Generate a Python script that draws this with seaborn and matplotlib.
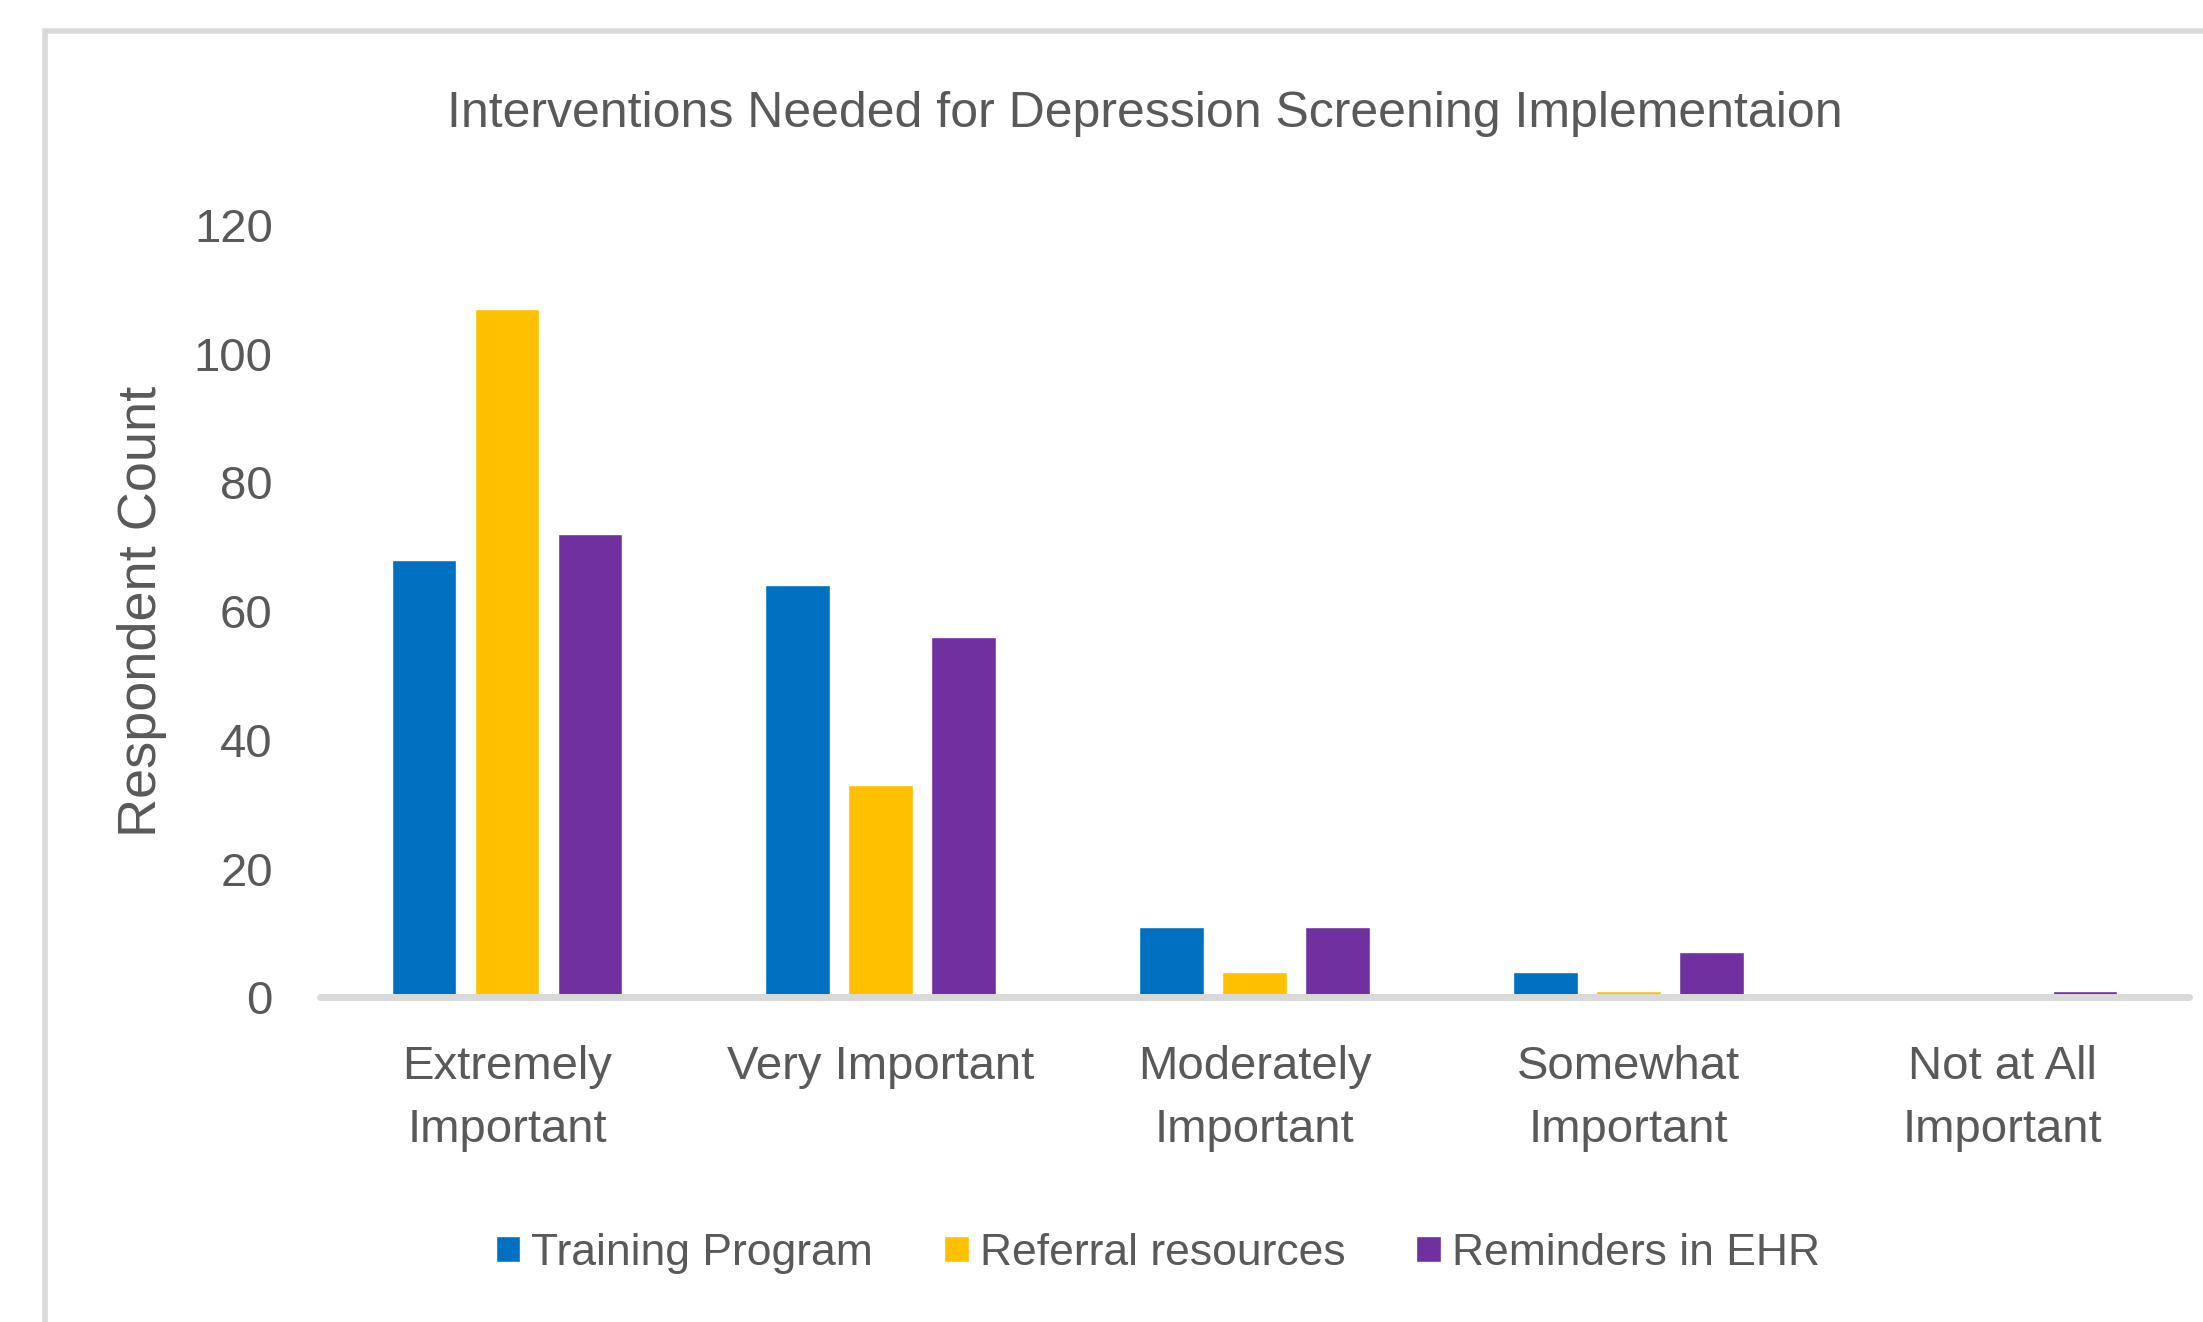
import pandas as pd
import seaborn as sns
import matplotlib.pyplot as plt
from matplotlib.patches import Rectangle

# values
categories = ["Extremely\nImportant", "Very Important", "Moderately\nImportant",
              "Somewhat\nImportant", "Not at All\nImportant"]
training_program = [68, 64, 11, 4, 0]
referral_resources = [107, 33, 4, 1, 0]
reminders_ehr = [72, 56, 11, 7, 1]
series_names = ["Training Program", "Referral resources", "Reminders in EHR"]
colors = ["#0070C0", "#FFC000", "#7030A0"]
yticks = [0, 20, 40, 60, 80, 100, 120]

df = pd.DataFrame({
    "category": categories * 3,
    "series": [s for s in series_names for _ in categories],
    "count": training_program + referral_resources + reminders_ehr,
})

sns.set_style("white")
plt.rcParams["font.family"] = ["Liberation Sans", "DejaVu Sans"]
text_color = "#595959"

fig = plt.figure(figsize=(22.03, 13.22), dpi=100)
ax = fig.add_axes([0.1453, 0.2455, 0.8483, 0.5843])

sns.barplot(data=df, x="category", y="count", hue="series", order=categories,
            hue_order=series_names, palette=colors, width=0.666, gap=0.22,
            saturation=1, ax=ax)

ax.axhline(0, color="#D9D9D9", lw=5, zorder=5, clip_on=False)
ax.set_xlim(-0.5, 4.5)
ax.set_ylim(0, 120)
ax.set_yticks(yticks)
sns.despine(ax=ax, left=True, bottom=True)
ax.tick_params(axis="both", length=0, colors=text_color, labelsize=34)
ax.tick_params(axis="x", pad=34)
ax.tick_params(axis="y", pad=34)
for lbl in ax.get_xticklabels():
    lbl.set_linespacing(1.58)
ax.set_xlabel("")
ax.set_ylabel("Respondent Count", fontsize=39, color=text_color)
ax.yaxis.set_label_coords(-0.082, 0.5)

# legend below the plot
handles, labels = ax.get_legend_handles_labels()
ax.get_legend().remove()
fig.legend(handles, labels, loc="center", bbox_to_anchor=(0.5256, 0.052), ncol=3,
           frameon=False, fontsize=32, labelcolor=text_color, handlelength=0.55,
           handleheight=0.55, handletextpad=0.25, columnspacing=1.6)

fig.text(0.5197, 1 - 114 / 1322, "Interventions Needed for Depression Screening Implementaion",
         ha="center", va="center", fontsize=36, color=text_color)

# chart border (cropped on the right and bottom)
fig.patches.append(Rectangle((45 / 2203, -0.1), 1.2, 1.1 - 31 / 1322, transform=fig.transFigure,
                             fill=False, edgecolor="#D9D9D9", lw=4, figure=fig))

fig.savefig("out.png", dpi=100)
